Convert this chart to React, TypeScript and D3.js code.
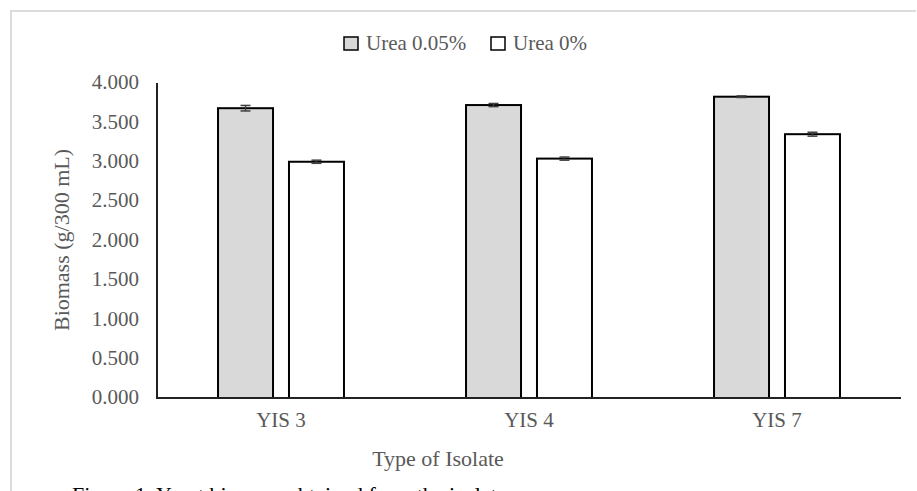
// Biomass by isolate: grouped bars with error bars (Urea 0.05% vs Urea 0%)
import React from 'react';
import * as d3 from 'd3';

const isolates = ['YIS 3', 'YIS 4', 'YIS 7'];
const seriesNames = ['Urea 0.05%', 'Urea 0%'];
const urea005 = [3.68, 3.72, 3.826];
const urea0 = [3.0, 3.04, 3.35];
const err005 = [0.035, 0.02, 0.01];
const err0 = [0.02, 0.02, 0.025];
const yTicks = [0, 0.5, 1, 1.5, 2, 2.5, 3, 3.5, 4];

const seriesFill = ['#d9d9d9', '#ffffff'];
const textColor = '#595959';
const font = '"Liberation Serif", "Times New Roman", serif';

const W = 917;
const H = 491;
const plot = { left: 157, right: 901, top: 83, bottom: 398 };

const App: React.FC = () => {
  const x0 = d3.scaleBand<string>().domain(isolates).range([plot.left, plot.right]).padding(0);
  const x1 = d3
    .scaleBand<string>()
    .domain(seriesNames)
    .range([0, x0.bandwidth()])
    .paddingInner(0.225)
    .paddingOuter(0.86);
  const y = d3.scaleLinear().domain([0, 4]).range([plot.bottom, plot.top]);

  const values = [urea005, urea0];
  const errors = [err005, err0];

  return (
    <svg
      width={W}
      height={H}
      style={{ position: 'absolute', left: 0, top: 0, background: '#fff' }}
      fontFamily={font}
    >
      {/* frame of the embedded chart */}
      <line x1={11} x2={11} y1={10} y2={H} stroke="#dcdcdc" strokeWidth={2} />
      <line x1={10} x2={916} y1={11} y2={11} stroke="#dcdcdc" strokeWidth={2} />

      {/* legend */}
      <g fontSize={21} fill={textColor}>
        <rect x={344} y={37} width={14} height={13} fill={seriesFill[0]} stroke="#000" strokeWidth={1.5} />
        <text x={366} y={50}>{seriesNames[0]}</text>
        <rect x={491} y={37} width={14} height={13} fill={seriesFill[1]} stroke="#000" strokeWidth={1.5} />
        <text x={513} y={50}>{seriesNames[1]}</text>
      </g>

      {/* y tick labels */}
      <g fontSize={21} fill={textColor} textAnchor="end">
        {yTicks.map((t) => (
          <text key={t} x={139} y={y(t)} dy="0.3em">
            {d3.format('.3f')(t)}
          </text>
        ))}
      </g>

      {/* bars */}
      {isolates.map((iso, i) => (
        <g key={iso} transform={`translate(${x0(iso)},0)`}>
          {seriesNames.map((s, si) => {
            const v = values[si][i];
            const e = errors[si][i];
            const bx = x1(s) as number;
            const cx = bx + x1.bandwidth() / 2;
            return (
              <g key={s}>
                <rect
                  x={bx}
                  y={y(v)}
                  width={x1.bandwidth()}
                  height={y(0) - y(v)}
                  fill={seriesFill[si]}
                  stroke="#000"
                  strokeWidth={2}
                />
                <g stroke="#404040" strokeWidth={1.5}>
                  <line x1={cx} x2={cx} y1={y(v - e)} y2={y(v + e)} />
                  <line x1={cx - 5} x2={cx + 5} y1={y(v + e)} y2={y(v + e)} />
                  <line x1={cx - 5} x2={cx + 5} y1={y(v - e)} y2={y(v - e)} />
                </g>
              </g>
            );
          })}
          <text
            x={x0.bandwidth() / 2}
            y={427}
            textAnchor="middle"
            fontSize={21}
            fill={textColor}
          >
            {iso}
          </text>
        </g>
      ))}

      {/* axes lines */}
      <line x1={plot.left} x2={plot.left} y1={plot.top} y2={plot.bottom} stroke="#222" strokeWidth={2} />
      <line x1={plot.left - 1} x2={plot.right} y1={plot.bottom} y2={plot.bottom} stroke="#222" strokeWidth={2} />

      {/* axis titles */}
      <text x={438} y={466} textAnchor="middle" fontSize={22} fill={textColor}>
        Type of Isolate
      </text>
      <text
        transform={`translate(61, 240) rotate(-90)`}
        textAnchor="middle"
        dy="0.35em"
        fontSize={22}
        fill={textColor}
      >
        Biomass (g/300 mL)
      </text>

      {/* caption, cut off by the bottom edge */}
      <text x={72} y={502} fontSize={22} fill="#000">
        Figure 1. Yeast biomass obtained from the isolates
      </text>
    </svg>
  );
};

export default App;
